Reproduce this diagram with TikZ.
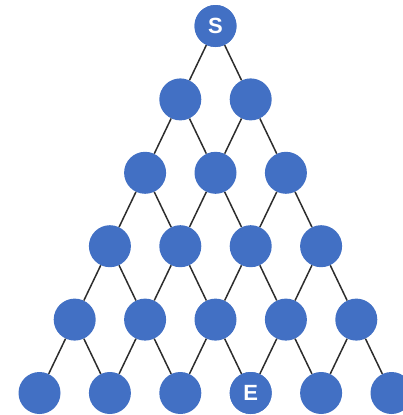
\documentclass[tikz,border=0pt]{standalone}
\usepackage{fontspec}
\setsansfont{Liberation Sans}
\begin{document}
\begin{tikzpicture}[x=1pt,y=-1pt,
  dot/.style={circle,fill=dotblue,draw=none,minimum size=42pt,inner sep=0pt,
    text=white,font=\sffamily\bfseries\fontsize{22}{22}\selectfont},
  link/.style={draw=linkgray,line width=1.5pt}]
\definecolor{dotblue}{RGB}{66,112,196}
\definecolor{linkgray}{RGB}{45,45,45}
\useasboundingbox (0,0) rectangle (402,415);
\foreach \i in {0,...,5}{
  \foreach \j in {0,...,\i}{
    \pgfmathsetmacro{\xx}{215.5+(\j-\i/2)*70.4}
    \pgfmathsetmacro{\yy}{26+\i*73.4}
    \node[dot] (n-\i-\j) at (\xx,\yy) {};
  }
}
\node[dot] at (n-0-0) {S};
\node[dot] at (n-5-3) {E};
\foreach \i in {0,...,4}{
  \foreach \j in {0,...,\i}{
    \pgfmathtruncatemacro{\ni}{\i+1}
    \pgfmathtruncatemacro{\nj}{\j+1}
    \draw[link] (n-\i-\j) -- (n-\ni-\j);
    \draw[link] (n-\i-\j) -- (n-\ni-\nj);
  }
}
\end{tikzpicture}
\end{document}
